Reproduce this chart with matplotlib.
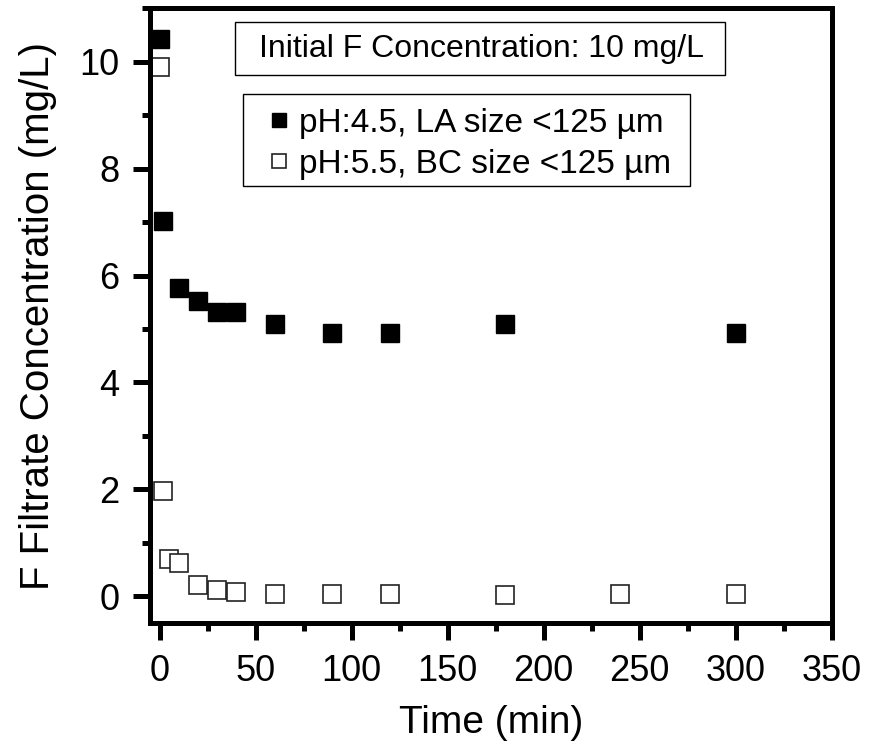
import matplotlib.pyplot as plt
from matplotlib.patches import Rectangle
from matplotlib.ticker import MultipleLocator

plt.rcParams["font.family"] = ["Liberation Sans", "DejaVu Sans"]

# pH 4.5, LA (filled squares)
time_la = [0, 2, 10, 20, 30, 40, 60, 90, 120, 180, 300]
conc_la = [10.43, 7.02, 5.76, 5.53, 5.31, 5.31, 5.10, 4.92, 4.92, 5.10, 4.92]

# pH 5.5, BC (open squares)
time_bc = [0, 2, 5, 10, 20, 30, 40, 60, 90, 120, 180, 240, 300]
conc_bc = [9.90, 1.97, 0.70, 0.62, 0.22, 0.12, 0.08, 0.05, 0.05, 0.04, 0.03, 0.04, 0.05]

label_la = "pH:4.5, LA size <125 µm"
label_bc = "pH:5.5, BC size <125 µm"
note = "Initial F Concentration: 10 mg/L"

fig = plt.figure(figsize=(8.69, 7.53), dpi=100)
ax = fig.add_axes([0.1726, 0.1726, 0.7844, 0.8164])

ax.plot(time_la, conc_la, "s", color="black", markersize=12.5,
        markeredgewidth=1, label=label_la)
ax.plot(time_bc, conc_bc, "s", markerfacecolor="white",
        markeredgecolor="#222222", markersize=12.5, markeredgewidth=1.2,
        label=label_bc)

ax.set_xlim(-5, 350)
ax.set_ylim(-0.5, 11)
ax.xaxis.set_major_locator(MultipleLocator(50))
ax.xaxis.set_minor_locator(MultipleLocator(25))
ax.yaxis.set_major_locator(MultipleLocator(2))
ax.yaxis.set_minor_locator(MultipleLocator(1))

for side in ax.spines.values():
    side.set_linewidth(3.6)
ax.tick_params(which="major", direction="out", length=12, width=3.6,
               labelsize=26, pad=10)
ax.tick_params(which="minor", direction="out", length=6, width=3.6)

ax.set_xlabel("Time (min)", fontsize=28, labelpad=12)
ax.set_ylabel("F Filtrate Concentration (mg/L)", fontsize=29, labelpad=16)

# note box
ax.add_patch(Rectangle((0.1246, 0.891), 0.7184, 0.086, transform=ax.transAxes,
                       facecolor="white", edgecolor="black", linewidth=1,
                       zorder=4))
ax.text(0.487, 0.934, note, transform=ax.transAxes, fontsize=23,
        ha="center", va="center", zorder=5)

# legend box drawn by hand so the padding matches
ax.add_patch(Rectangle((0.1364, 0.7117), 0.6554, 0.1483, transform=ax.transAxes,
                       facecolor="white", edgecolor="black", linewidth=1,
                       zorder=4))
leg = ax.legend(loc="upper left", bbox_to_anchor=(0.153, 0.86),
                borderaxespad=0, fontsize=24, frameon=False,
                markerscale=0.75, handletextpad=0.25, handlelength=0.7,
                borderpad=0.4, labelspacing=0.3)
leg.set_zorder(6)

fig.savefig("out.png", dpi=100)
